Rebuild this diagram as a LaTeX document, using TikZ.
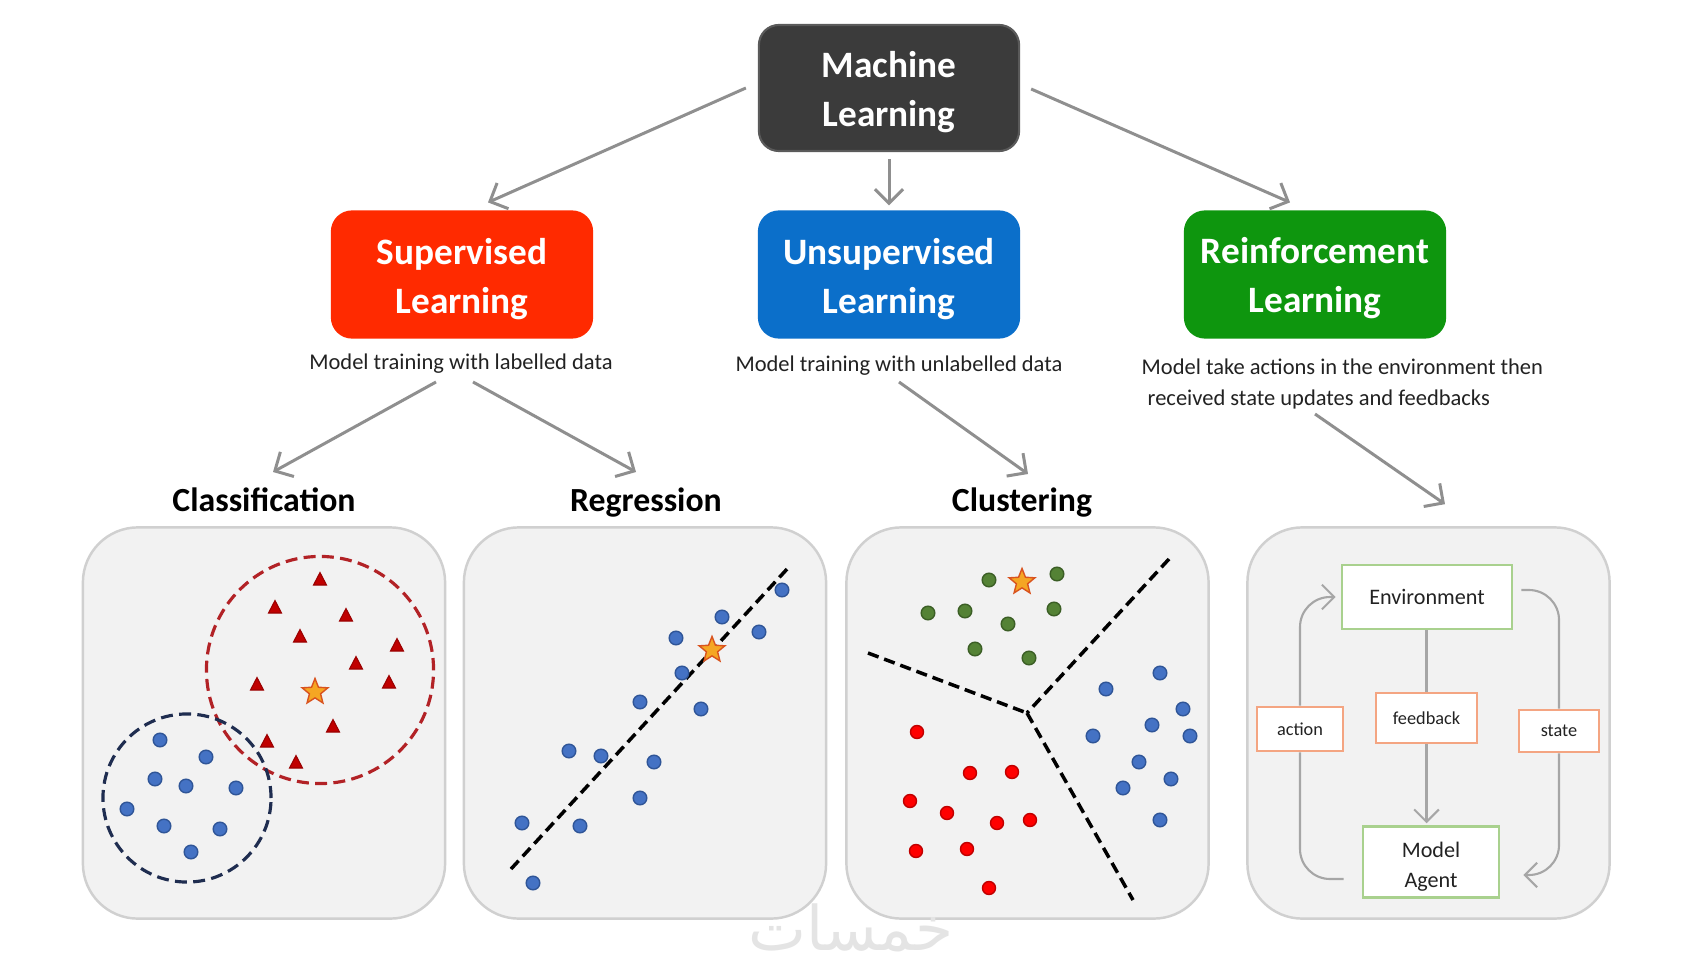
\documentclass[tikz,border=0pt]{standalone}
\usepackage{fontspec}
\setmainfont{Carlito}
\newfontfamily\arabicfont[Script=Arabic]{DejaVu Sans}
\TeXXeTstate=1
\usetikzlibrary{arrows.meta,shapes.geometric,calc}
\definecolor{mlgray}{HTML}{3B3B3B}
\definecolor{mlborder}{HTML}{5A5A5A}
\definecolor{supred}{HTML}{FF2A00}
\definecolor{unsblue}{HTML}{0B6FCA}
\definecolor{rlgreen}{HTML}{0E960E}
\definecolor{arrgray}{HTML}{8F8F8F}
\definecolor{rlarrgray}{HTML}{A6A6A6}
\definecolor{panelfill}{HTML}{F2F2F2}
\definecolor{panelborder}{HTML}{D0D0D0}
\definecolor{dotblue}{HTML}{4472C4}
\definecolor{dotblueline}{HTML}{2F5597}
\definecolor{dotgreen}{HTML}{548235}
\definecolor{dotgreenline}{HTML}{3B5E25}
\definecolor{dotred}{HTML}{FF0000}
\definecolor{dotredline}{HTML}{C00000}
\definecolor{trired}{HTML}{C00000}
\definecolor{circred}{HTML}{B22226}
\definecolor{circblue}{HTML}{1F2D50}
\definecolor{starfill}{HTML}{F5A623}
\definecolor{starline}{HTML}{D9531E}
\definecolor{envgreen}{HTML}{A9D18E}
\definecolor{lblorange}{HTML}{F4A582}
\definecolor{txtdark}{HTML}{222222}
\definecolor{wmgray}{HTML}{E4E4E4}
\newcommand{\lowtext}[2]{\raisebox{-#1}[\height][\depth]{\begin{tabular}{@{}c@{}}#2\end{tabular}}}
\tikzset{
  topbox/.style={rounded corners=0.2cm, minimum width=2.6cm, minimum height=1.26cm,
    text=white, align=center, inner sep=0pt, line width=0.6pt,
    font=\bfseries\fontsize{10.6}{13.9}\selectfont},
  desc/.style={text=txtdark, inner sep=0pt, font=\fontsize{6.4}{8.8}\selectfont},
  head/.style={text=black, inner sep=0pt, anchor=base, font=\bfseries\fontsize{9.6}{11}\selectfont},
  panel/.style={draw=panelborder, fill=panelfill, rounded corners=0.55cm,
    minimum width=3.62cm, minimum height=3.91cm, line width=0.7pt},
  arr/.style={draw=arrgray, line width=0.85pt, -{Straight Barb[length=4pt,width=8pt]}},
  rlarr/.style={draw=rlarrgray, line width=0.6pt, rounded corners=0.3cm},
  rltip/.style={-{Straight Barb[length=3.5pt,width=7pt]}},
  envbox/.style={draw=envgreen, fill=white, line width=0.7pt, inner sep=0pt, align=center,
    text=txtdark, font=\fontsize{6.3}{8.5}\selectfont},
  lblbox/.style={draw=lblorange, fill=white, line width=0.8pt, inner sep=0pt,
    text=txtdark, font=\fontsize{5.2}{6}\selectfont},
  bdot/.style={fill=dotblue, draw=dotblueline, line width=0.4pt},
  gdot/.style={fill=dotgreen, draw=dotgreenline, line width=0.4pt},
  rdot/.style={fill=dotred, draw=dotredline, line width=0.4pt},
  tri/.style={fill=trired, draw=trired!80!black, line width=0.3pt},
  starmark/.style={star, star points=5, star point ratio=2.3, minimum size=0.27cm,
    inner sep=0pt, fill=starfill, draw=starline, line width=0.4pt},
  dline/.style={draw=black, line width=1pt, dash pattern=on 3.2pt off 1.7pt},
}
\begin{document}
\begin{tikzpicture}[x=0.01cm,y=-0.01cm]
\useasboundingbox (0,0) rectangle (1700,970);
\fill[white] (0,0) rectangle (1700,970);

% ---------- top level ----------
\node[topbox, fill=mlgray, draw=mlborder] (ml) at (889,88) {\lowtext{0.04cm}{Machine\\Learning}};
\node[topbox, fill=supred, draw=supred] (sup) at (462,274.5) {\lowtext{0.045cm}{Supervised\\Learning}};
\node[topbox, fill=unsblue, draw=unsblue] (uns) at (889,274.5) {\lowtext{0.045cm}{Unsupervised\\Learning}};
\node[topbox, fill=rlgreen, draw=rlgreen] (rl) at (1315,274.5) {\lowtext{0.04cm}{Reinforcement\\Learning}};

\draw[arr] ($(ml.west)+(-12,0)$) -- ($(sup.north)+(26,-8)$);
\draw[arr] ($(ml.south)+(0,7)$) -- ($(uns.north)+(0,-5)$);
\draw[arr] ($(ml.east)+(11,1)$) -- ($(rl.north)+(-25,-8)$);

% ---------- descriptions ----------
\node[desc] (supd) at (461,364) {Model training with labelled data};
\node[desc] (unsd) at (899,366) {Model training with unlabelled data};
\node[desc, align=left, anchor=west] (rld) at (1141,384)
  {Model take actions in the environment then\\\hspace*{0.06cm}received state updates and feedbacks};

% ---------- headings ----------
\node[head] (clh) at (264,511) {Classification};
\node[head] (regh) at (646,511) {Regression};
\node[head] (clush) at (1022,511) {Clustering};

% ---------- panels ----------
\node[panel] (p1) at (264,723) {};
\node[panel] (p2) at (645,723) {};
\node[panel] (p3) at (1027.5,723) {};
\node[panel] (p4) at (1428.5,723) {};

\draw[arr] ($(supd.center)+(-25,18)$) -- ($(clh.base)+(9,-39)$);
\draw[arr] ($(supd.center)+(12,18)$) -- ($(regh.base)+(-10,-39)$);
\draw[arr] ($(unsd.center)+(0,16)$) -- ($(clush.base)+(6,-37)$);
\draw[arr] ($(rld.west)+(174,30)$) -- ($(p4.north)+(16.5,-22)$);

% ---------- classification ----------
\draw[draw=circred, line width=0.9pt, dash pattern=on 3.4pt off 1.8pt] (320,670) circle[radius=1.135cm];
\draw[draw=circblue, line width=0.9pt, dash pattern=on 3.4pt off 1.8pt] (187,798) circle[radius=0.84cm];
\foreach \x/\y in {320/580,275/608,346/616,300/637,397/646,356/664,257/685,389/683,333/727,267/742,296/763}
  \draw[tri] (\x-6.5,\y+5) -- (\x+6.5,\y+5) -- (\x,\y-7.5) -- cycle;
\node[starmark] (st1) at (315,692) {};
\foreach \x/\y in {160/740,206/757,155/779,186/786,236/788,127/809,164/826,220/829,191/852}
  \draw[bdot] (\x,\y) circle[radius=0.068cm];

% ---------- regression ----------
\coordinate (rg1) at (511,869);
\coordinate (rg2) at (788,568);
\draw[dline] (rg1) -- (rg2);
\foreach \x/\y in {782/590,722/617,759/632,676/638,682/673,640/702,701/709,569/751,601/756,654/762,640/798,522/823,580/826,533/883}
  \draw[bdot] (\x,\y) circle[radius=0.068cm];
\node[starmark] (st2) at (712,650) {};

% ---------- clustering ----------
\coordinate (cj) at (1027,713);
\coordinate (ca) at (868,653);
\coordinate (cb) at (1169,559);
\coordinate (cc) at (1133,900);
\draw[dline] (ca) -- (cj);
\draw[dline] (cb) -- (cj);
\draw[dline] (cj) -- (cc);
\foreach \x/\y in {989/580,1057/574,928/613,965/611,1054/609,1008/624,975/649,1029/658}
  \draw[gdot] (\x,\y) circle[radius=0.068cm];
\node[starmark] (st3) at (1022,582) {};
\foreach \x/\y in {917/732,970/773,1012/772,910/801,947/813,997/823,1030/820,916/851,967/849,989/888}
  \draw[rdot] (\x,\y) circle[radius=0.065cm];
\foreach \x/\y in {1160/673,1106/689,1183/709,1152/725,1093/736,1190/736,1139/762,1171/779,1123/788,1160/820}
  \draw[bdot] (\x,\y) circle[radius=0.068cm];

% ---------- reinforcement ----------
\node[envbox, minimum width=1.7cm, minimum height=0.64cm] (env) at (1427,597) {Environment};
\node[envbox, minimum width=1.36cm, minimum height=0.71cm] (agent) at (1431,862) {\lowtext{0.045cm}{Model\\Agent}};
\node[lblbox, minimum width=0.86cm, minimum height=0.44cm] (act) at (1300,729) {action};
\node[lblbox, minimum width=1.01cm, minimum height=0.5cm] (fb) at (1426.5,718) {feedback};
\node[lblbox, minimum width=0.8cm, minimum height=0.42cm] (stt) at (1559,731) {state};

\draw[rlarr] (env.south -| fb.north) -- (fb.north);
\draw[rlarr, rltip] (fb.south) -- ($(agent.north -| fb.south)+(0,-2)$);
\draw[rlarr] ($(agent.west)+(-18,17)$) -| (act.south);
\draw[rlarr, rltip] (act.north) |- ($(env.west)+(-5,0)$);
\draw[rlarr] ($(env.east)+(8,-7)$) -| (stt.north);
\draw[rlarr, rltip] (stt.south) |- ($(agent.east)+(23,13)$);

% ---------- watermark ----------
\node[text=wmgray, inner sep=0pt, font=\arabicfont\fontsize{17.5}{18}\selectfont] (wm) at (851,928) {\beginR خمسات\endR};
\end{tikzpicture}
\end{document}
